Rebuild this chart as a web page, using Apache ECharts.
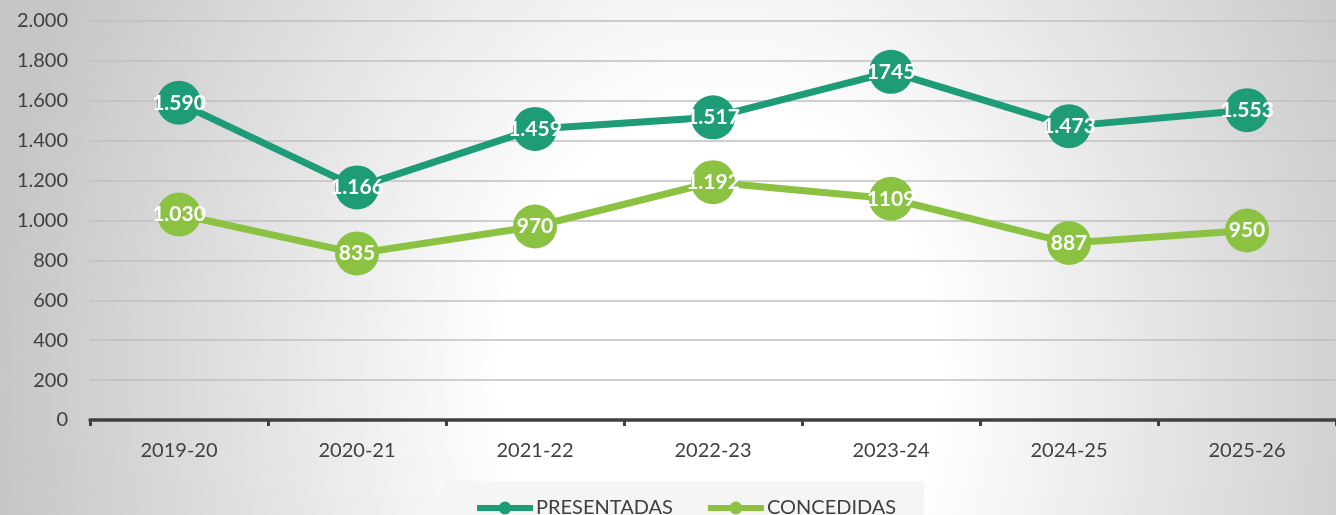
<!DOCTYPE html>
<html><head><meta charset="utf-8">
<script src="https://cdn.jsdelivr.net/npm/echarts@6/dist/echarts.min.js"></script>
<style>html,body{margin:0;padding:0;}#c{width:1336px;height:515px;}</style>
</head><body><div id="c"></div>
<script>
const categories = ['2019-20','2020-21','2021-22','2022-23','2023-24','2024-25','2025-26'];
const presentadas = [1590, 1166, 1459, 1517, 1745, 1473, 1553];
const presentadasLabels = ['1.590','1.166','1.459','1.517','1745','1.473','1.553'];
const concedidas = [1030, 835, 970, 1192, 1109, 887, 950];
const concedidasLabels = ['1.030','835','970','1.192','1109','887','950'];
const seriesNames = ['PRESENTADAS','CONCEDIDAS'];

const FONT = 'Lato';
const chart = echarts.init(document.getElementById('c'), null, {renderer:'canvas'});
const fmt = v => String(v).replace(/\B(?=(\d{3})+(?!\d))/g, '.');
const sY = 900 / 720;
chart.setOption({
  animation:false,
  graphic:[{
    type:'rect', z:-10, silent:true, x:0, y:0, scaleY:sY,
    shape:{x:0,y:0,width:1336,height:515 / sY + 2},
    style:{fill:{type:'radial', x:720, y:380 / sY, r:720, global:true,
      colorStops:[{offset:0,color:'#ffffff'},{offset:0.3,color:'#ffffff'},{offset:1,color:'#c6c6c6'}]}}
  }],
  grid:{left:90, right:0, top:21, bottom:95, containLabel:false},
  legend:{
    data:seriesNames, top:481, left:443,
    backgroundColor:'#f5f5f5', padding:[17,28,20,31],
    itemWidth:56, itemHeight:16, itemGap:32,
    lineStyle:{width:6},
    textStyle:{fontFamily:FONT, fontSize:20, color:'#404040', padding:[0,0,0,-2]}
  },
  xAxis:{
    type:'category', data:categories, boundaryGap:true,
    axisLine:{lineStyle:{color:'#404040', width:3.5}},
    axisTick:{show:true, length:6, lineStyle:{color:'#404040', width:3}},
    axisLabel:{fontFamily:FONT, fontSize:20, color:'#404040', margin:21}
  },
  yAxis:{
    type:'value', min:0, max:2000, interval:200,
    axisLine:{show:false}, axisTick:{show:false},
    axisLabel:{fontFamily:FONT, fontSize:20, color:'#404040', margin:22, formatter:v=>fmt(v)},
    splitLine:{lineStyle:{color:'#bfbfbf', width:1.5}}
  },
  series:[
    {name:seriesNames[0], type:'line', data:presentadas, symbol:'circle', symbolSize:44,
     itemStyle:{color:'#1e9b77'}, lineStyle:{width:7, color:'#1e9b77'},
     label:{show:true, position:'inside', formatter:p=>presentadasLabels[p.dataIndex],
       fontFamily:FONT, fontWeight:'bold', fontSize:21, color:'#ffffff'}},
    {name:seriesNames[1], type:'line', data:concedidas, symbol:'circle', symbolSize:44,
     itemStyle:{color:'#8bc242'}, lineStyle:{width:7, color:'#8bc242'},
     label:{show:true, position:'inside', formatter:p=>concedidasLabels[p.dataIndex],
       fontFamily:FONT, fontWeight:'bold', fontSize:21, color:'#ffffff'}}
  ]
});
</script></body></html>
